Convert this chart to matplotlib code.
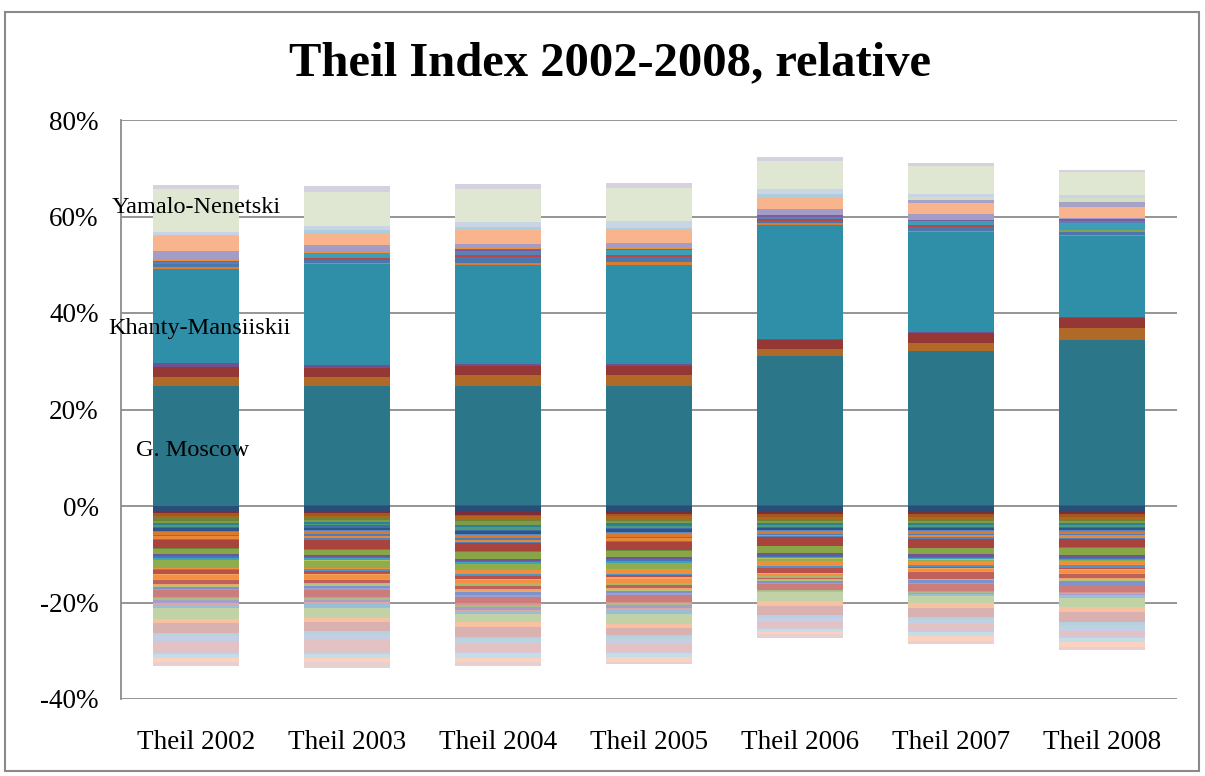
import numpy as np
import matplotlib
matplotlib.use("Agg")
import matplotlib.pyplot as plt
from matplotlib.patches import Rectangle
from matplotlib.ticker import FuncFormatter

categories = ["Theil 2002", "Theil 2003", "Theil 2004", "Theil 2005",
              "Theil 2006", "Theil 2007", "Theil 2008"]

# Positive contributions (percent), bottom to top
pos_names = ["thin", "G. Moscow", "brown", "red", "purple", "Khanty-Mansiiskii",
             "orange", "blue", "green", "red2", "aqua", "blue2", "purple2",
             "orange2", "lavender", "peach", "lavender2", "light aqua",
             "light green", "light blue", "Yamalo-Nenetski", "top"]
pos_colors = ["#8E3B3B", "#2B7689", "#B06A28", "#953735", "#71508F", "#2F8EA8",
              "#D97E2E", "#4A78AE", "#86A24A", "#B84845", "#3D9EB8", "#5A80B5",
              "#7A5E9E", "#E8913F", "#A39CC6", "#F8B48D", "#A9A2C8", "#ABCFDD",
              "#D4DEC0", "#C9D5E6", "#DFE6D1", "#D5D1DF"]
pos_2002 = [0, 24.9, 1.9, 2.1, 0.7, 19.6, 0.37, 0.5, 0, 0, 0, 0.5, 0.3, 0.35,
            1.57, 3.1, 0, 0.3, 0, 0.55, 8.97, 0.89]
pos_2003 = [0.15, 24.75, 1.86, 1.86, 0.55, 20.9, 0.35, 0.54, 0, 0.45, 1.1, 0, 0,
            0.27, 1.3, 2.6, 0, 0.55, 0, 0.83, 7.1, 1.18]
pos_2004 = [0.3, 24.6, 2.2, 1.93, 0.41, 20.6, 0.35, 1.24, 0, 0.41, 0, 0.74, 0.4,
            0.3, 0.9, 2.75, 0, 0.7, 0, 1.03, 6.9, 1.03]
pos_2005 = [0.3, 24.6, 2.2, 1.93, 0.41, 20.6, 0.62, 0.96, 0, 0.48, 1.03, 0, 0.2,
            0.2, 0.96, 2.69, 0, 0.48, 0, 1.38, 6.89, 1.03]
pos_2006 = [0.2, 30.8, 1.6, 1.72, 0.35, 23.6, 0.35, 0.5, 0, 0.3, 0, 0.4, 0.43,
            0, 1.24, 2.48, 0, 0.62, 0, 1.1, 5.79, 0.89]
pos_2007 = [0.2, 31.9, 1.59, 2.13, 0.2, 20.67, 0.35, 0.76, 0, 0.35, 0.83, 0,
            0.35, 0, 1.1, 2.34, 0.55, 0, 0.69, 0.69, 5.79, 0.55]
pos_2008 = [0.3, 34.2, 2.34, 2.07, 0.35, 16.66, 0.28, 0.55, 0.55, 0, 1.38, 0.41,
            0.42, 0, 0.2, 2.27, 1.1, 0, 0.76, 0.69, 4.69, 0.48]

# Negative contributions (percent, magnitude), from zero downwards
neg_colors = ["#2B4C74", "#7B2D3A", "#A05A1E", "#B3651E", "#6B8437", "#7E9B47",
              "#2F7F95", "#4E9A7E", "#3F6EA6", "#2D558A", "#5B88C0", "#DC7A2C",
              "#4A7EBB", "#E58838", "#5781B6", "#A8433E", "#6C8A3A", "#88A548",
              "#6C5799", "#4577B5", "#3FA2BC", "#B0C45A", "#8FAD4C", "#F08F3E",
              "#4E95C4", "#B9504C", "#F4A460", "#F39143", "#A9B76C", "#C0605A",
              "#E9A46A", "#B5C27F", "#7E92CB", "#9AA0D0", "#CC7C7A", "#D49592",
              "#A9BC8A", "#A89DC7", "#DBA8A8", "#99BFD8", "#C2D2A7", "#F7C2A2",
              "#D9B1B1", "#B6CFE2", "#B8D6D9", "#C6CEE5", "#E2C2C2", "#D4C7DB",
              "#C3DEE6", "#FBD2C0", "#E8D0D0"]
neg_2002 = [1.17, 0.34, 0.48, 0.48, 0.55, 0.48, 0.34, 0.41, 0.41, 0.55, 0.21,
            0.62, 0.28, 0.55, 0.28, 1.52, 0.14, 1.24, 0.34, 0.34, 0.41, 0.14,
            1.52, 0.28, 0.28, 0.83, 0.21, 0.76, 0.28, 0.69, 0.28, 0.28, 0.41,
            0.41, 1.38, 0.28, 0.41, 0.55, 0.41, 0.69, 2.20, 0.90, 2.00, 0.28,
            0.41, 0.96, 2.20, 0.41, 0.83, 0.96, 0.76]
neg_2003 = [1.1, 0.41, 0.48, 0.41, 0.48, 0.41, 0.41, 0.34, 0.48, 0.48, 0.28,
            0.55, 0.34, 0.48, 0.34, 1.93, 0.14, 1.03, 0.41, 0.34, 0.34, 0.21,
            1.38, 0.34, 0.28, 0.69, 0.28, 0.69, 0.34, 0.62, 0.21, 0.34, 0.48,
            0.41, 1.31, 0.34, 0.34, 0.41, 0.34, 0.96, 2.07, 0.76, 1.99, 0.41,
            0.48, 0.83, 2.47, 0.41, 0.96, 0.83, 1.26]
neg_2004 = [1.1, 0.69, 0.34, 0.48, 0.55, 0.69, 0.55, 0.48, 0.34, 0.55, 0.21,
            0.62, 0.41, 0.48, 0.21, 1.62, 0.14, 1.45, 0.48, 0.28, 0.28, 0.14,
            1.24, 0.83, 0.41, 0.48, 0.21, 0.76, 0.55, 0.69, 0.28, 0.28, 0.55,
            0.41, 1.24, 0.48, 0.41, 0.55, 0.41, 0.41, 1.79, 1.10, 1.93, 0.41,
            0.41, 0.41, 1.79, 0.41, 0.96, 0.83, 0.76]
neg_2005 = [1.03, 0.55, 0.48, 0.55, 0.41, 0.55, 0.48, 0.41, 0.41, 0.48, 0.28,
            0.76, 0.28, 0.55, 0.28, 1.72, 0.14, 1.24, 0.48, 0.34, 0.34, 0.14,
            1.17, 1.03, 0.28, 0.41, 0.28, 0.83, 0.41, 0.69, 0.21, 0.34, 0.48,
            0.41, 1.38, 0.34, 0.41, 0.62, 0.34, 0.83, 2.0, 0.83, 1.59, 0.34,
            0.55, 0.69, 1.72, 0.48, 0.76, 0.97, 0.5]
neg_2006 = [1.2, 0.55, 0.48, 0.48, 0.41, 0.48, 0.34, 0.34, 0.28, 0.41, 0.21,
            0.55, 0.21, 0.34, 0.14, 1.86, 0.1, 1.38, 0.55, 0.21, 0.34, 0.14,
            0.34, 1.03, 0.55, 0.9, 0.21, 0.48, 0.34, 0.34, 0.14, 0.21, 0.34,
            0.28, 1.17, 0.14, 0.14, 0.1, 0.1, 0.1, 1.72, 1.03, 1.93, 0.34,
            0.34, 0.69, 1.38, 0.2, 0.48, 0.5, 0.83]
neg_2007 = [1.1, 0.55, 0.55, 0.48, 0.41, 0.41, 0.48, 0.34, 0.34, 0.41, 0.21,
            0.55, 0.28, 0.41, 0.23, 1.86, 0.1, 1.17, 0.62, 0.21, 0.28, 0.1,
            0.28, 0.9, 0.34, 0.34, 0.21, 0.41, 0.21, 1.38, 0.14, 0.14, 0.48,
            0.21, 1.59, 0.14, 0.14, 0.14, 0.14, 0.34, 1.52, 1.1, 1.72, 0.48,
            0.34, 0.69, 1.24, 0.34, 0.97, 0.9, 0.58]
neg_2008 = [1.17, 0.48, 0.55, 0.41, 0.48, 0.34, 0.48, 0.41, 0.34, 0.41, 0.28,
            0.55, 0.21, 0.48, 0.23, 1.72, 0.1, 1.59, 0.48, 0.21, 0.21, 0.1,
            0.1, 0.83, 0.69, 0.21, 0.14, 0.69, 0.1, 0.9, 0.21, 0.48, 0.69,
            0.1, 1.38, 0.28, 0.28, 0.2, 0.21, 0.38, 1.86, 1.03, 2.07, 0.69,
            0.41, 0.69, 0.88, 0.55, 0.9, 1.03, 0.69]

labels = ["Yamalo-Nenetski", "Khanty-Mansiiskii", "G. Moscow"]

SERIF = ["Liberation Serif", "DejaVu Serif"]
plt.rcParams["font.family"] = SERIF

W, H = 1205, 776
fig = plt.figure(figsize=(W / 100, H / 100), dpi=100)
ax = fig.add_axes([121 / W, 1 - 699 / H, (1177 - 121) / W, (699 - 120) / H])

x = np.arange(len(categories))
bw = 0.57
pos = np.array([pos_2002, pos_2003, pos_2004, pos_2005, pos_2006, pos_2007, pos_2008])
neg = np.array([neg_2002, neg_2003, neg_2004, neg_2005, neg_2006, neg_2007, neg_2008])

bottom = np.zeros(len(x))
for j in range(pos.shape[1]):
    ax.bar(x, pos[:, j], bw, bottom=bottom, color=pos_colors[j], linewidth=0, zorder=3)
    bottom = bottom + pos[:, j]

bottom = np.zeros(len(x))
for j in range(neg.shape[1]):
    ax.bar(x, -neg[:, j], bw, bottom=bottom, color=neg_colors[j], linewidth=0, zorder=3)
    bottom = bottom - neg[:, j]

ax.set_xlim(-0.5, len(x) - 0.5)
ax.set_ylim(-40, 80)
ax.set_yticks(np.arange(-40, 81, 20))
ax.yaxis.set_major_formatter(FuncFormatter(lambda v, p: f"{v:.0f}%"))
ax.set_xticks(x)
ax.set_xticklabels(categories)
ax.grid(axis="y", color="#8C8C8C", linewidth=1.3, zorder=0)
ax.set_axisbelow(True)
for s in ["top", "right", "bottom"]:
    ax.spines[s].set_visible(False)
ax.spines["left"].set_color("#8C8C8C")
ax.spines["left"].set_linewidth(1.3)
ax.tick_params(axis="y", length=0, pad=16, labelsize=19.5)
ax.tick_params(axis="x", length=0, pad=22, labelsize=19.5)

# data labels
ax.text(0.0, 61.8, labels[0], ha="center", va="center", fontsize=17.5, zorder=5)
ax.text(0.02, 36.8, labels[1], ha="center", va="center", fontsize=17.5, zorder=5)
ax.text(-0.027, 11.6, labels[2], ha="center", va="center", fontsize=17.5, zorder=5)

fig.text(610 / W, 1 - 63 / H, "Theil Index 2002-2008, relative", ha="center",
         va="center", fontsize=35, fontweight="bold")

fig.patches.append(Rectangle((5 / W, 1 - 771 / H), 1194 / W, 759 / H,
                             transform=fig.transFigure, fill=False,
                             edgecolor="#8A8A8A", linewidth=1.5))

fig.savefig("out.png", dpi=100)
